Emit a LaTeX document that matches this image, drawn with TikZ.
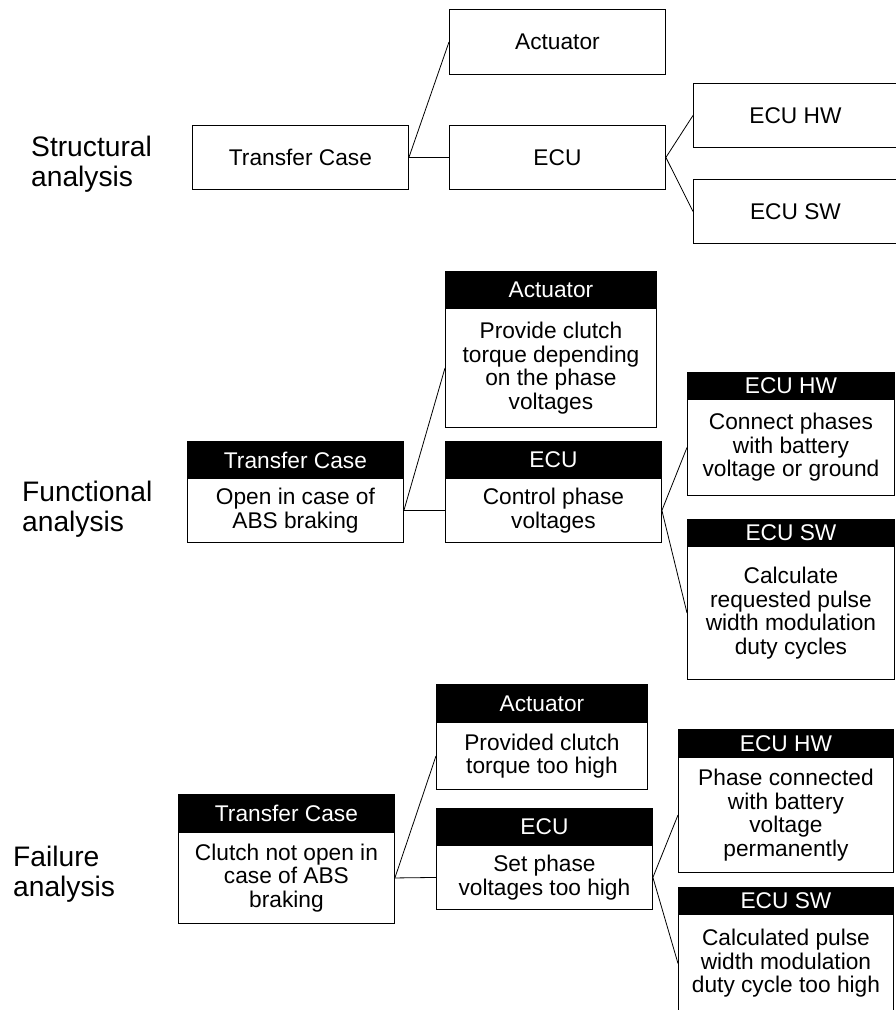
\documentclass[tikz,border=0pt]{standalone}
\usepackage{fontspec}
\setmainfont{Liberation Sans}
\begin{document}
\begin{tikzpicture}[x=1pt,y=-1pt,
  boxfont/.style={font=\fontsize{22.7}{23.6}\selectfont},
  blk/.style={draw=black, line width=0.9pt, fill=white, inner sep=0pt,
    align=center, anchor=north west, boxfont},
  head/.style={blk, fill=black, text=white},
  rowlabel/.style={anchor=north west, inner sep=0pt, align=left,
    font=\fontsize{28.2}{30}\selectfont},
  link/.style={draw=black, line width=0.8pt}]
\useasboundingbox (0,0) rectangle (895,1010);

% ---------- Structural analysis ----------
\node[rowlabel] (lab1) at (31,136) {Structural\\analysis};
\node[blk, minimum width=216, minimum height=65] (s1act) at (449,9) {Actuator};
\node[blk, minimum width=216, minimum height=64] (s1tc)  at (192,125) {Transfer Case};
\node[blk, minimum width=216, minimum height=64] (s1ecu) at (449,125) {ECU};
\node[blk, minimum width=204, minimum height=64] (s1hw)  at (693,83) {ECU HW};
\node[blk, minimum width=204, minimum height=64] (s1sw)  at (693,179) {ECU SW};
\draw[link] (s1tc.east) -- (s1act.west);
\draw[link] (s1tc.east) -- (s1ecu.west);
\draw[link] (s1ecu.east) -- (s1hw.west);
\draw[link] (s1ecu.east) -- (s1sw.west);

% ---------- Functional analysis ----------
\node[rowlabel] (lab2) at (22,481) {Functional\\analysis};
\node[head, minimum width=211, minimum height=37]  (s2acth) at (445,271) {Actuator};
\node[blk,  minimum width=211, minimum height=119] (s2actb) at (445,308)
  {Provide clutch\\torque depending\\on the phase\\voltages};
\node[head, minimum width=216, minimum height=37] (s2tch) at (187,441) {Transfer Case};
\node[blk,  minimum width=216, minimum height=64] (s2tcb) at (187,478)
  {Open in case of\\ABS braking};
\node[head, minimum width=216, minimum height=37] (s2ecuh) at (445,441) {ECU};
\node[blk,  minimum width=216, minimum height=64] (s2ecub) at (445,478)
  {Control phase\\voltages};
\node[head, minimum width=207, minimum height=27] (s2hwh) at (687,372) {ECU HW};
\node[blk,  minimum width=207, minimum height=96] (s2hwb) at (687,399)
  {Connect phases\\with battery\\voltage or ground};
\node[head, minimum width=207, minimum height=27]  (s2swh) at (687,519) {ECU SW};
\node[blk,  minimum width=207, minimum height=133] (s2swb) at (687,546)
  {Calculate\\requested pulse\\width modulation\\duty cycles};
\draw[link] (s2tcb.east) -- (s2actb.west);
\draw[link] (s2tcb.east) -- (s2ecub.west);
\draw[link] (s2ecub.east) -- (s2hwb.west);
\draw[link] (s2ecub.east) -- (s2swb.west);

% ---------- Failure analysis ----------
\node[rowlabel] (lab3) at (13,846) {Failure\\analysis};
\node[head, minimum width=211, minimum height=38] (s3acth) at (436,684) {Actuator};
\node[blk,  minimum width=211, minimum height=67] (s3actb) at (436,722)
  {Provided clutch\\torque too high};
\node[head, minimum width=216, minimum height=38] (s3tch) at (178,794) {Transfer Case};
\node[blk,  minimum width=216, minimum height=91] (s3tcb) at (178,832)
  {Clutch not open in\\case of ABS\\braking};
\node[head, minimum width=216, minimum height=37] (s3ecuh) at (436,808) {ECU};
\node[blk,  minimum width=216, minimum height=64] (s3ecub) at (436,845)
  {Set phase\\voltages too high};
\node[head, minimum width=215, minimum height=28]  (s3hwh) at (678,729) {ECU HW};
\node[blk,  minimum width=215, minimum height=115] (s3hwb) at (678,757)
  {Phase connected\\with battery\\voltage\\permanently};
\node[head, minimum width=215, minimum height=27] (s3swh) at (678,887) {ECU SW};
\node[blk,  minimum width=215, minimum height=98] (s3swb) at (678,914)
  {Calculated pulse\\width modulation\\duty cycle too high};
\draw[link] (s3tcb.east) -- (s3actb.west);
\draw[link] (s3tcb.east) -- (s3ecub.west);
\draw[link] (s3ecub.east) -- (s3hwb.west);
\draw[link] (s3ecub.east) -- (s3swb.west);
\end{tikzpicture}
\end{document}
